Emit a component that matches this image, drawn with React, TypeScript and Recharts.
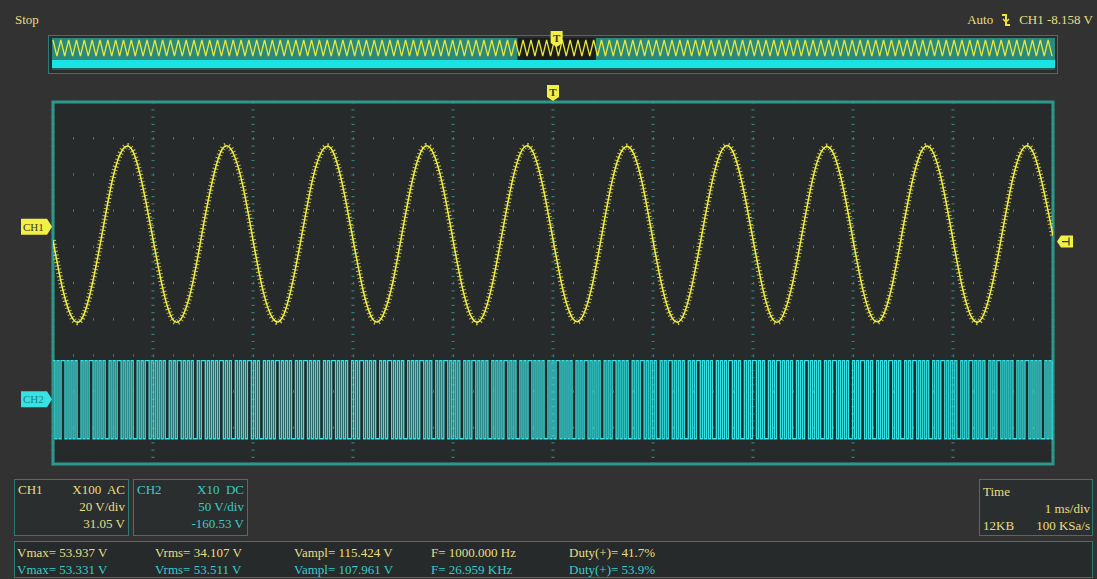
import React from 'react';
import { LineChart, Line, XAxis, YAxis, CartesianGrid, ReferenceLine, ReferenceArea } from 'recharts';

// ---------------- data ----------------
// grid divisions (10 x 10), 1 ms/div horizontally
const timeDivTicks = [1, 2, 3, 4, 5, 6, 7, 8, 9];
const vertDivTicks = [1, 2, 3, 4, 5, 6, 7, 8, 9];

// channel settings
const ch1VoltsPerDiv = 20;
const ch1Offset = 31.05;
const ch2VoltsPerDiv = 50;
const ch2Offset = -160.53;
const triggerLevel = -8.158;
const triggerTimeMs = 5;

// CH1 trace, volts, sampled every 0.1 ms across the 10 ms screen
const ch1StepMs = 0.1;
const ch1Volts = [
  -7.5, -35.2, -51.0, -49.6, -29.8, -1.2, 27.4, 43.0, 41.5, 21.6,
  -6.8, -34.6, -51.4, -49.0, -30.3, -0.6, 26.8, 43.5, 40.9, 22.3,
  -7.3, -35.3, -50.8, -49.5, -29.6, -1.0, 27.2, 42.8, 41.4, 21.8,
  -6.9, -34.8, -51.3, -48.9, -30.1, -0.7, 27.1, 43.4, 41.0, 22.1,
  -7.2, -35.1, -51.2, -49.3, -29.9, -1.1, 26.9, 43.2, 41.3, 21.9,
  -7.0, -34.9, -50.9, -49.1, -30.2, -0.8, 27.3, 43.0, 41.1, 22.2,
  -7.4, -35.2, -51.1, -49.4, -29.7, -0.9, 27.0, 43.3, 41.4, 21.7,
  -6.9, -34.7, -51.3, -49.0, -30.0, -1.0, 27.2, 42.9, 41.0, 22.0,
  -7.1, -35.0, -51.0, -49.2, -30.1, -0.8, 26.8, 43.1, 41.2, 22.1,
  -7.2, -35.1, -51.2, -49.3, -29.9, -1.0, 27.1, 43.2, 41.3, 21.9,
  -4.8,
];

// CH2 trace: sampled logic levels (1 = high, 0 = low) across the 10 ms screen
const ch2High = 53.3;
const ch2Low = -54.6;
const ch2Levels =
  '10101101010100101011010101001010110101010010101101' +
  '01010100101011010101001011010101011010100101010110' +
  '10100101010110101010010101101010100101011010101001' +
  '01011010101001010110101010010101011010100101011010' +
  '10100101011010101001010101101010010101101010100101' +
  '01101010100101011010101001010110101010010101101010' +
  '10010101101010100101011010101001010101101010010101' +
  '10101001010110101010010101101010100101011010101001' +
  '01011010100101010110101001010110101010010101101010' +
  '10010101101010100101011010101001010110101010010101';

// overview of the whole memory (ms): CH1 peaks (H) and troughs (L) every 0.5 ms
const overviewSpanMs = 128;
const overviewFirstMs = 0.125;
const overviewStepMs = 0.5;
const overviewPeak = 44.6;
const overviewTrough = -52.6;
const overviewLevels =
  'HLHLHLHLHLHLHLHLHLHLHLHLHLHLHLHL' +
  'HLHLHLHLHLHLHLHLHLHLHLHLHLHLHLHL' +
  'HLHLHLHLHLHLHLHLHLHLHLHLHLHLHLHL' +
  'HLHLHLHLHLHLHLHLHLHLHLHLHLHLHLHL' +
  'HLHLHLHLHLHLHLHLHLHLHLHLHLHLHLHL' +
  'HLHLHLHLHLHLHLHLHLHLHLHLHLHLHLHL' +
  'HLHLHLHLHLHLHLHLHLHLHLHLHLHLHLHL' +
  'HLHLHLHLHLHLHLHLHLHLHLHLHLHLHLHL';
const overviewWindowMs = [59.4, 69.4];
const overviewTriggerMs = 64.4;

// texts
const statusText = 'Stop';
const triggerModeText = 'Auto';
const triggerInfoText = 'CH1 -8.158 V';
const ch1Box = ['CH1', 'X100  AC', '20 V/div', '31.05 V'];
const ch2Box = ['CH2', 'X10  DC', '50 V/div', '-160.53 V'];
const timeBox = ['Time', '1 ms/div', '12KB', '100 KSa/s'];
const measCh1 = ['Vmax= 53.937 V', 'Vrms= 34.107 V', 'Vampl= 115.424 V', 'F= 1000.000 Hz', 'Duty(+)= 41.7%'];
const measCh2 = ['Vmax= 53.331 V', 'Vrms= 53.511 V', 'Vampl= 107.961 V', 'F= 26.959 KHz', 'Duty(+)= 53.9%'];

// ---------------- derived tables ----------------
const ch1Data = ch1Volts.map((v, i) => ({ t: +(i * ch1StepMs).toFixed(3), v }));
const ch2Data = ch2Levels.split('').map((c, i, arr) => ({
  t: (i * 10) / (arr.length - 1),
  v: c === '1' ? ch2High : ch2Low,
}));
const overviewData = overviewLevels.split('').map((c, i) => ({
  t: overviewFirstMs + i * overviewStepMs,
  v: c === 'H' ? overviewPeak : overviewTrough,
}));

const ch1Center = -ch1Offset;
const ch1Domain = [ch1Center - 5 * ch1VoltsPerDiv, ch1Center + 5 * ch1VoltsPerDiv];
const ch2Center = -ch2Offset;
const ch2Domain = [ch2Center - 5 * ch2VoltsPerDiv, ch2Center + 5 * ch2VoltsPerDiv];

// ---------------- styles ----------------
const BG = '#323232';
const PLOT_BG = '#262a2a';
const TEAL = '#2c978b';
const GRID = '#2d8379';
const YELLOW = '#f2ef45';
const YELLOW_TXT = '#e6df86';
const CYAN = '#36e2e2';
const CYAN_TXT = '#3ccaca';
const FONT = '"Liberation Serif", "Times New Roman", serif';

const ChMarker = (props: any, text: string, fill: string, txt: string) => {
  const vb = props.viewBox || {};
  const x = vb.x;
  const y = vb.y;
  const pts = `${x - 32},${y - 8} ${x - 6},${y - 8} ${x - 1},${y} ${x - 6},${y + 8} ${x - 32},${y + 8}`;
  return (
    <g>
      <polygon points={pts} fill={fill} />
      <text x={x - 30} y={y + 4} fontSize={11} fill={txt} fontFamily={FONT}>
        {text}
      </text>
    </g>
  );
};

const LevelMarker = (props: any) => {
  const vb = props.viewBox || {};
  const x = vb.x + vb.width;
  const y = vb.y;
  const pts = `${x + 4},${y} ${x + 8},${y - 6} ${x + 20},${y - 6} ${x + 20},${y + 6} ${x + 8},${y + 6}`;
  return (
    <g>
      <polygon points={pts} fill={YELLOW} />
      <path d={`M${x + 9},${y} H${x + 16} M${x + 16},${y - 4} V${y + 4}`} stroke="#3a3a20" strokeWidth={1.2} />
    </g>
  );
};

const TMarker = (props: any, dy: number) => {
  const vb = props.viewBox || {};
  const x = vb.x;
  const top = vb.y + dy;
  const pts = `${x - 6},${top} ${x + 6},${top} ${x + 6},${top + 12} ${x},${top + 16} ${x - 6},${top + 12}`;
  return (
    <g>
      <polygon points={pts} fill={YELLOW} />
      <text x={x} y={top + 11} fontSize={11} fontWeight="bold" textAnchor="middle" fill="#3a3a20" fontFamily={FONT}>
        T
      </text>
    </g>
  );
};

const txt = (left: number, top: number, content: string, color: string, align: 'left' | 'right' = 'left', width = 0) => (
  <div
    style={{
      position: 'absolute',
      left: align === 'left' ? left : left - width,
      top,
      width: align === 'right' ? width : undefined,
      textAlign: align,
      color,
      fontSize: 13,
      lineHeight: '17px',
      whiteSpace: 'pre',
      fontFamily: FONT,
    }}
  >
    {content}
  </div>
);

const boxStyle = (left: number, top: number, width: number, height: number): React.CSSProperties => ({
  position: 'absolute',
  left,
  top,
  width,
  height,
  border: '1px solid #2b7d74',
  background: '#2b2e2e',
  boxSizing: 'border-box',
});

const InfoBox = ({ left, lines, color }: { left: number; lines: string[]; color: string }) => (
  <div style={boxStyle(left, 479, 115, 57)}>
    {txt(3, 1, lines[0], color)}
    {txt(110, 1, lines[1], color, 'right', 100)}
    {txt(110, 18, lines[2], color, 'right', 100)}
    {txt(110, 35, lines[3], color, 'right', 100)}
  </div>
);

export default function App() {
  const measX = [2, 140, 279, 416, 554];
  return (
    <div
      style={{
        position: 'fixed',
        left: 0,
        top: 0,
        width: 1097,
        height: 579,
        background: BG,
        overflow: 'hidden',
        fontFamily: FONT,
      }}
    >
      {/* main scope screen */}
      <div style={{ position: 'absolute', left: 0, top: 0 }}>
        <LineChart width={1097} height={579} margin={{ top: 102, left: 53, right: 44, bottom: 115 }}>
          <XAxis xAxisId="t" type="number" dataKey="t" domain={[0, 10]} ticks={timeDivTicks} allowDataOverflow hide />
          <YAxis yAxisId="grid" type="number" domain={[0, 10]} ticks={vertDivTicks} allowDataOverflow hide />
          <YAxis yAxisId="ch1" type="number" domain={ch1Domain} allowDataOverflow hide />
          <YAxis yAxisId="ch2" type="number" domain={ch2Domain} allowDataOverflow hide />
          <CartesianGrid
            xAxisId="t"
            yAxisId="grid"
            horizontal={false}
            stroke={GRID}
            strokeWidth={3}
            strokeDasharray="1.2 6.04"
            fill={PLOT_BG}
          />
          <CartesianGrid
            xAxisId="t"
            yAxisId="grid"
            vertical={false}
            stroke={GRID}
            strokeWidth={2.5}
            strokeDasharray="1 19"
          />
          <Line
            data={ch2Data}
            xAxisId="t"
            yAxisId="ch2"
            dataKey="v"
            type="stepAfter"
            stroke={CYAN}
            strokeWidth={1.35}
            dot={false}
            activeDot={false}
            isAnimationActive={false}
          />
          <Line
            data={ch1Data}
            xAxisId="t"
            yAxisId="ch1"
            dataKey="v"
            type="natural"
            stroke="#c2c044"
            strokeWidth={6}
            strokeDasharray="1 2.6"
            dot={false}
            activeDot={false}
            isAnimationActive={false}
          />
          <Line
            data={ch1Data}
            xAxisId="t"
            yAxisId="ch1"
            dataKey="v"
            type="natural"
            stroke={YELLOW}
            strokeWidth={1.5}
            dot={false}
            activeDot={false}
            isAnimationActive={false}
          />
          <ReferenceArea
            xAxisId="t"
            yAxisId="grid"
            x1={0}
            x2={10}
            y1={0}
            y2={10}
            fill="none"
            fillOpacity={0}
            stroke={TEAL}
            strokeWidth={3}
          />
          <ReferenceLine
            xAxisId="t"
            yAxisId="ch1"
            y={0}
            stroke="none"
            label={(p: any) => ChMarker(p, 'CH1', YELLOW, '#3a3a20')}
          />
          <ReferenceLine
            xAxisId="t"
            yAxisId="ch2"
            y={0}
            stroke="none"
            label={(p: any) => ChMarker(p, 'CH2', CYAN, '#1a8585')}
          />
          <ReferenceLine xAxisId="t" yAxisId="ch1" y={triggerLevel} stroke="none" label={LevelMarker} />
          <ReferenceLine
            xAxisId="t"
            yAxisId="grid"
            x={triggerTimeMs}
            stroke="none"
            label={(p: any) => TMarker(p, -17)}
          />
        </LineChart>
      </div>

      {/* memory overview */}
      <div style={boxStyle(48, 35, 1010, 39)} />
      <div style={{ position: 'absolute', left: 52, top: 28 }}>
        <LineChart width={1003} height={42} margin={{ top: 10, left: 0, right: 0, bottom: 0 }}>
          <XAxis xAxisId="m" type="number" dataKey="t" domain={[0, overviewSpanMs]} allowDataOverflow hide />
          <YAxis yAxisId="o1" type="number" domain={[-135.4, 56.6]} allowDataOverflow hide />
          <YAxis yAxisId="o2" type="number" domain={[-81.6, 350.1]} allowDataOverflow hide />
          <ReferenceArea
            xAxisId="m"
            yAxisId="o2"
            x1={0}
            x2={overviewSpanMs}
            y1={-81.6}
            y2={350.1}
            fill="#2b8a7c"
            fillOpacity={1}
            stroke="none"
          />
          <ReferenceArea
            xAxisId="m"
            yAxisId="o2"
            x1={0}
            x2={overviewSpanMs}
            y1={-81.6}
            y2={-54.6}
            fill="#1f5f58"
            fillOpacity={1}
            stroke="none"
          />
          <ReferenceArea
            xAxisId="m"
            yAxisId="o2"
            x1={overviewWindowMs[0]}
            x2={overviewWindowMs[1]}
            y1={53.3}
            y2={350.1}
            fill="#1b1d1d"
            fillOpacity={1}
            stroke="none"
          />
          <ReferenceArea
            xAxisId="m"
            yAxisId="o2"
            x1={0}
            x2={overviewSpanMs}
            y1={ch2Low}
            y2={ch2High}
            fill="#19e3e3"
            fillOpacity={1}
            stroke="none"
          />
          <Line
            data={overviewData}
            xAxisId="m"
            yAxisId="o1"
            dataKey="v"
            type="linear"
            stroke="#e9e63a"
            strokeWidth={1.3}
            dot={false}
            activeDot={false}
            isAnimationActive={false}
          />
          <ReferenceLine
            xAxisId="m"
            yAxisId="o2"
            x={overviewTriggerMs}
            stroke="none"
            label={(p: any) => TMarker(p, -7)}
          />
        </LineChart>
      </div>

      {/* status line */}
      {txt(15, 11, statusText, YELLOW_TXT)}
      <div
        style={{
          position: 'absolute',
          right: 4,
          top: 11,
          display: 'flex',
          alignItems: 'center',
          color: YELLOW_TXT,
          fontSize: 13,
          lineHeight: '17px',
          fontFamily: FONT,
          whiteSpace: 'pre',
        }}
      >
        <span>{triggerModeText}</span>
        <svg width={22} height={16} style={{ margin: '0 2px' }}>
          <path d="M7,3 H11 V13 H15" stroke="#f2e43a" strokeWidth={2} fill="none" />
          <path d="M8,7 L11,10 L14,7" stroke="#f2e43a" strokeWidth={1.5} fill="none" />
        </svg>
        <span>{triggerInfoText}</span>
      </div>

      {/* channel / time boxes */}
      <InfoBox left={14} lines={ch1Box} color={YELLOW_TXT} />
      <InfoBox left={133} lines={ch2Box} color={CYAN_TXT} />
      <div style={boxStyle(979, 479, 114, 57)}>
        {txt(3, 3, timeBox[0], YELLOW_TXT)}
        {txt(110, 20, timeBox[1], YELLOW_TXT, 'right', 100)}
        {txt(3, 37, timeBox[2], YELLOW_TXT)}
        {txt(110, 37, timeBox[3], YELLOW_TXT, 'right', 100)}
      </div>

      {/* measurements */}
      <div style={{ ...boxStyle(14, 541, 1079, 37), background: '#262a2a' }}>
        {measCh1.map((m, i) => (
          <React.Fragment key={'a' + i}>{txt(measX[i], 2, m, YELLOW_TXT)}</React.Fragment>
        ))}
        {measCh2.map((m, i) => (
          <React.Fragment key={'b' + i}>{txt(measX[i], 19, m, CYAN_TXT)}</React.Fragment>
        ))}
      </div>
    </div>
  );
}
